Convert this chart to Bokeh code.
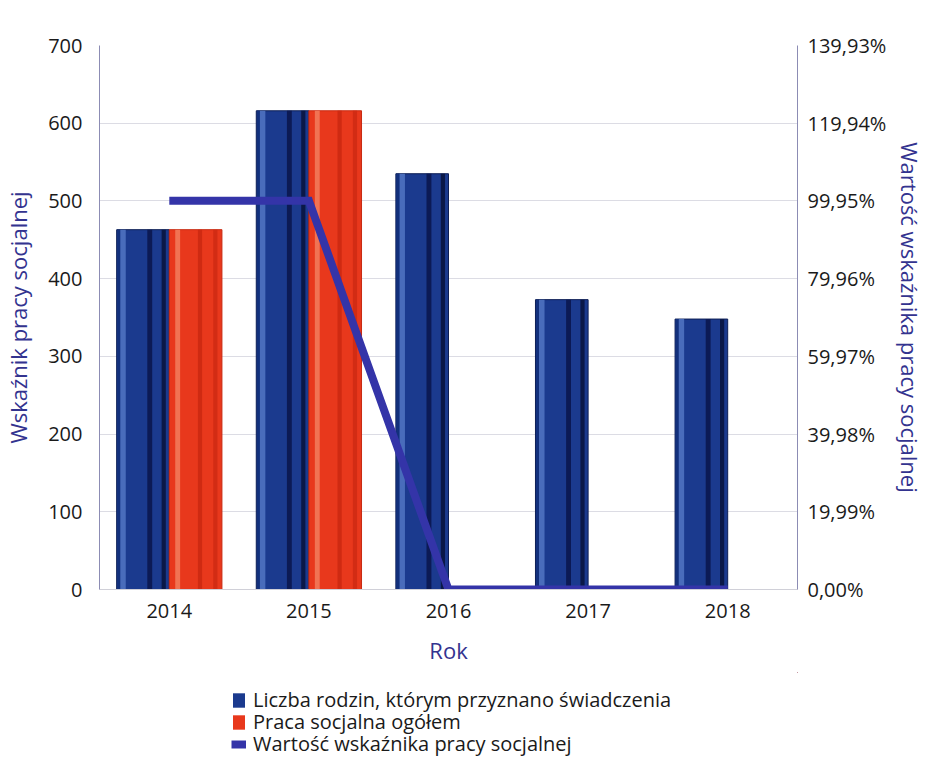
from bokeh.plotting import figure
from bokeh.models import (Range1d, LinearAxis, FixedTicker, Legend, LegendItem,
                          ColumnDataSource, FactorRange)
from bokeh.layouts import column
from bokeh.transform import dodge
from bokeh.embed import file_html
from bokeh.resources import INLINE

years = ["2014", "2015", "2016", "2017", "2018"]
liczba_rodzin = [463, 616, 535, 373, 348]
praca_socjalna = [463, 616, 0, 0, 0]
wskaznik_pct = [100.0, 100.0, 0.0, 0.0, 0.0]
left_ticks = [0, 100, 200, 300, 400, 500, 600, 700]
pct_ticks = [0, 19.99, 39.98, 59.97, 79.96, 99.95, 119.94, 139.93]
pct_labels = ["0,00%", "19,99%", "39,98%", "59,97%", "79,96%", "99,95%", "119,94%", "139,93%"]
series_names = ["Liczba rodzin, którym przyznano świadczenia",
                "Praca socjalna ogółem",
                "Wartość wskaźnika pracy socjalnej"]

src = ColumnDataSource(dict(x=years, a=liczba_rodzin, b=praca_socjalna, w=wskaznik_pct))

FONT = "Open Sans"
TITLE_COLOR = "#33338f"
TICK_COLOR = "#1a1a1a"
AXIS_LINE = "#8c8cb4"
BLUE = "#1b3a8e"
RED = "#e8381c"
LINE = "#3434a8"

p = figure(width=928, height=672, x_range=FactorRange(factors=years),
           y_range=Range1d(0, 700), output_backend="svg", toolbar_location=None,
           min_border_left=97, min_border_right=129, min_border_top=45,
           min_border_bottom=83)
p.extra_y_ranges = {"pct": Range1d(0, 139.93)}
p.outline_line_color = None
p.background_fill_color = "white"

W = 0.377
blue = p.vbar(x=dodge("x", -W / 2, range=p.x_range), top="a", width=W, source=src,
              fill_color=BLUE, line_color="#0d1e55", line_width=1)
p.vbar(x=dodge("x", -W + 0.045, range=p.x_range), top="a", width=0.04, source=src,
       fill_color="#4f72c0", line_color=None, fill_alpha=0.9)
p.vbar(x=dodge("x", -W + 0.015, range=p.x_range), top="a", width=0.02, source=src,
       fill_color="#12307c", line_color=None)
p.vbar(x=dodge("x", -0.14, range=p.x_range), top="a", width=0.035, source=src,
       fill_color="#0c1a55", line_color=None)
p.vbar(x=dodge("x", -0.04, range=p.x_range), top="a", width=0.03, source=src,
       fill_color="#0a1848", line_color=None)

red = p.vbar(x=dodge("x", W / 2, range=p.x_range), top="b", width=W, source=src,
             fill_color=RED, line_color="#c82a12", line_width=1)
p.vbar(x=dodge("x", 0.06, range=p.x_range), top="b", width=0.035, source=src,
       fill_color="#f27a5a", line_color=None, fill_alpha=0.9)
p.vbar(x=dodge("x", 0.22, range=p.x_range), top="b", width=0.03, source=src,
       fill_color="#cf2a12", line_color=None)
p.vbar(x=dodge("x", 0.33, range=p.x_range), top="b", width=0.03, source=src,
       fill_color="#d22c14", line_color=None)

line = p.line(x="x", y="w", source=src, y_range_name="pct", line_color=LINE,
              line_width=8, line_join="miter")

p.xgrid.grid_line_color = None
p.ygrid.grid_line_color = "#dcdce4"
p.ygrid.ticker = FixedTicker(ticks=left_ticks)

ya = p.yaxis[0]
ya.ticker = FixedTicker(ticks=left_ticks)
ya.axis_label = "Wskaźnik pracy socjalnej"
ya.axis_label_text_font = FONT
ya.axis_label_text_font_style = "normal"
ya.axis_label_text_font_size = "22px"
ya.axis_label_text_color = TITLE_COLOR
ya.axis_label_standoff = 12
ya.major_label_text_font = FONT
ya.major_label_text_font_size = "20px"
ya.major_label_text_color = TICK_COLOR
ya.major_label_standoff = 11
ya.axis_line_color = AXIS_LINE
ya.major_tick_line_color = None
ya.minor_tick_line_color = None

ra = LinearAxis(y_range_name="pct", ticker=FixedTicker(ticks=pct_ticks),
                major_label_overrides={t: l for t, l in zip(pct_ticks, pct_labels)})
ra.axis_label = "Wartość wskaźnika pracy socjalnej"
ra.axis_label_text_font = FONT
ra.axis_label_text_font_style = "normal"
ra.axis_label_text_font_size = "22px"
ra.axis_label_text_color = TITLE_COLOR
ra.axis_label_standoff = 6
ra.major_label_text_font = FONT
ra.major_label_text_font_size = "20px"
ra.major_label_text_color = TICK_COLOR
ra.major_label_standoff = 4
ra.axis_line_color = AXIS_LINE
ra.major_tick_line_color = None
ra.minor_tick_line_color = None
p.add_layout(ra, "right")

xa = p.xaxis[0]
xa.axis_label = "Rok"
xa.axis_label_text_font = FONT
xa.axis_label_text_font_style = "normal"
xa.axis_label_text_font_size = "22px"
xa.axis_label_text_color = TITLE_COLOR
xa.axis_label_standoff = 14
xa.major_label_text_font = FONT
xa.major_label_text_font_size = "20px"
xa.major_label_text_color = TICK_COLOR
xa.major_label_standoff = 8
xa.axis_line_color = "#d0d0d8"
xa.major_tick_line_color = None
xa.minor_tick_line_color = None

# legend strip below the chart; proxy glyphs share the data but lie outside the view
lg = figure(width=928, height=86, x_range=FactorRange(factors=years),
            y_range=Range1d(-2000, -1000),
            output_backend="svg", toolbar_location=None,
            x_axis_location=None, y_axis_location=None,
            min_border_left=97, min_border_right=129, min_border_top=0, min_border_bottom=0)
lg.outline_line_color = None
lg.xgrid.grid_line_color = None
lg.ygrid.grid_line_color = None
off = dodge("x", 20, range=lg.x_range)
lb = lg.vbar(x=off, top="a", width=0.3, source=src, fill_color=BLUE, line_color=None)
lr = lg.vbar(x=off, top="a", width=0.3, source=src, fill_color=RED, line_color=None)
ll = lg.line(x=off, y="a", source=src, line_color=LINE, line_width=8)

for name, rend, vy in zip(series_names, [lb, lr, ll], [45, 23, 1]):
    lgd = Legend(items=[LegendItem(label=name, renderers=[rend])], location=(132, vy))
    lgd.label_text_font = FONT
    lgd.label_text_font_size = "20px"
    lgd.label_text_color = "#1a1a1a"
    lgd.glyph_width = 15
    lgd.glyph_height = 18
    lgd.label_height = 18
    lgd.padding = 2
    lgd.margin = 0
    lgd.label_standoff = 7
    lgd.border_line_color = None
    lgd.background_fill_alpha = 0
    lg.add_layout(lgd, "center")

layout = column(p, lg, spacing=0)
open("out.html", "w").write(file_html(layout, INLINE))
